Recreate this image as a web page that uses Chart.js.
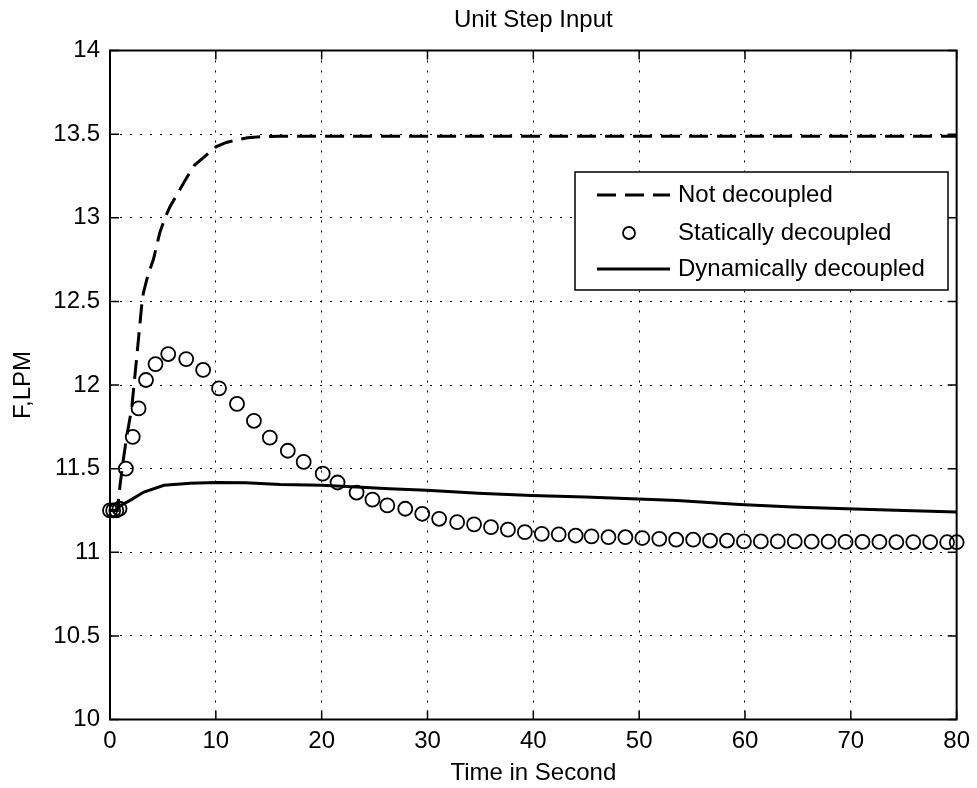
<!DOCTYPE html>
<html>
<head>
<meta charset="utf-8">
<title>Unit Step Input</title>
<script src="https://cdn.jsdelivr.net/npm/chart.js@4.4.1/dist/chart.umd.min.js"></script>
<style>
  html, body { margin: 0; padding: 0; background: #fff; }
  #wrap { width: 977px; height: 788px; }
</style>
</head>
<body>
<div id="wrap"><canvas id="step-chart"></canvas></div>
<script>
// values (time in s, flow in LPM)
const notDecT = [0, 0.7, 0.95, 1.25, 1.6, 2.05, 2.5, 3.0, 3.15, 3.6, 4.1, 4.7, 5.2, 5.7, 6.3, 7.2, 8.0, 9.1, 10.05, 11.0, 11.9, 13.0, 14.4, 16, 20, 30, 40, 50, 60, 70, 80];
const notDecF = [11.25, 11.25, 11.4, 11.55, 11.7, 11.86, 12.15, 12.48, 12.55, 12.66, 12.75, 12.91, 13.0, 13.07, 13.135, 13.235, 13.315, 13.375, 13.425, 13.45, 13.465, 13.478, 13.485, 13.487, 13.488, 13.488, 13.488, 13.488, 13.488, 13.488, 13.488];

const staticT = [0, 0.3, 0.6, 0.9, 1.5, 2.15, 2.7, 3.4, 4.3, 5.5, 7.2, 8.8, 10.3, 12.0, 13.6, 15.1, 16.8, 18.3, 20.1, 21.5, 23.3, 24.8, 26.2, 27.9, 29.5, 31.1, 32.8, 34.4, 36.0, 37.6, 39.2, 40.8, 42.4, 44.0, 45.5, 47.1, 48.7, 50.3, 51.9, 53.5, 55.1, 56.7, 58.3, 59.9, 61.5, 63.1, 64.7, 66.3, 67.9, 69.5, 71.1, 72.7, 74.3, 75.9, 77.5, 79.1, 80];
const staticF = [11.25, 11.25, 11.25, 11.26, 11.5, 11.69, 11.86, 12.03, 12.125, 12.185, 12.155, 12.09, 11.98, 11.887, 11.786, 11.685, 11.607, 11.54, 11.47, 11.417, 11.357, 11.315, 11.28, 11.26, 11.23, 11.20, 11.18, 11.167, 11.15, 11.135, 11.12, 11.11, 11.107, 11.10, 11.095, 11.09, 11.09, 11.085, 11.08, 11.075, 11.075, 11.07, 11.07, 11.065, 11.065, 11.065, 11.065, 11.063, 11.063, 11.062, 11.062, 11.062, 11.061, 11.061, 11.061, 11.06, 11.06];

const dynT = [0, 0.5, 1, 1.9, 3.2, 5.1, 7.6, 10, 12.8, 16.1, 20, 23.3, 26.4, 29.9, 34.8, 39.8, 44.9, 49.9, 53.6, 59.5, 64.5, 69.6, 75, 80];
const dynF = [11.25, 11.25, 11.28, 11.31, 11.36, 11.40, 11.412, 11.417, 11.415, 11.405, 11.40, 11.39, 11.38, 11.37, 11.353, 11.34, 11.33, 11.318, 11.31, 11.285, 11.27, 11.26, 11.25, 11.24];

const seriesNames = ["Not decoupled", "Statically decoupled", "Dynamically decoupled"];
const chartTitle = "Unit Step Input";

const toPoints = (ts, fs) => ts.map((t, i) => ({ x: t, y: fs[i] }));

const FONT = "'Liberation Sans', Arial, sans-serif";
Chart.defaults.font.family = FONT;
Chart.defaults.font.size = 24;
Chart.defaults.color = "#000";

// MATLAB style frame with inward tick marks, title centred over the axes
const frameTicks = {
  id: "frameTicks",
  afterDatasetsDraw(chart) {
    const { ctx, chartArea: a, scales } = chart;
    ctx.save();
    ctx.strokeStyle = "#000";
    ctx.lineWidth = 1.5;
    ctx.beginPath();
    scales.x.ticks.forEach(t => {
      const px = scales.x.getPixelForValue(t.value);
      ctx.moveTo(px, a.bottom); ctx.lineTo(px, a.bottom - 9);
      ctx.moveTo(px, a.top); ctx.lineTo(px, a.top + 9);
    });
    scales.y.ticks.forEach(t => {
      const py = scales.y.getPixelForValue(t.value);
      ctx.moveTo(a.left, py); ctx.lineTo(a.left + 9, py);
      ctx.moveTo(a.right, py); ctx.lineTo(a.right - 9, py);
    });
    ctx.stroke();
    ctx.lineWidth = 2;
    ctx.strokeRect(a.left, a.top, a.right - a.left, a.bottom - a.top);

    ctx.fillStyle = "#000";
    ctx.font = "24px " + FONT;
    ctx.textAlign = "center";
    ctx.textBaseline = "middle";
    ctx.fillText(chartTitle, (a.left + a.right) / 2, 20);
    ctx.restore();
  }
};

// legend box inside the plot, top right
const boxLegend = {
  id: "boxLegend",
  afterDraw(chart) {
    const { ctx } = chart;
    const bx = 575, by = 172, bw = 373, bh = 118;
    const rows = [195, 233, 269];
    ctx.save();
    ctx.fillStyle = "#fff";
    ctx.fillRect(bx, by, bw, bh);
    ctx.strokeStyle = "#000";
    ctx.lineWidth = 1.5;
    ctx.strokeRect(bx, by, bw, bh);
    chart.data.datasets.forEach((ds, i) => {
      const y = rows[i];
      ctx.strokeStyle = "#000";
      if (ds.showLine === false) {
        ctx.lineWidth = 1.8;
        ctx.setLineDash([]);
        ctx.beginPath();
        ctx.arc(629, y, 6, 0, Math.PI * 2);
        ctx.stroke();
      } else {
        ctx.lineWidth = ds.borderWidth;
        ctx.setLineDash(ds.borderDash || []);
        ctx.beginPath();
        ctx.moveTo(597, y); ctx.lineTo(670, y);
        ctx.stroke();
      }
      ctx.setLineDash([]);
      ctx.fillStyle = "#000";
      ctx.font = "24px " + FONT;
      ctx.textBaseline = "middle";
      ctx.textAlign = "left";
      ctx.fillText(ds.label, 678, y);
    });
    ctx.restore();
  }
};

new Chart("step-chart", {
  type: "scatter",
  data: {
    datasets: [
      {
        label: seriesNames[0],
        data: toPoints(notDecT, notDecF),
        showLine: true,
        borderColor: "#000",
        borderWidth: 3,
        borderDash: [19, 9],
        pointRadius: 0,
        fill: false
      },
      {
        label: seriesNames[1],
        data: toPoints(staticT, staticF),
        showLine: false,
        borderColor: "#000",
        backgroundColor: "rgba(0,0,0,0)",
        borderWidth: 1.8,
        pointRadius: 7,
        clip: false
      },
      {
        label: seriesNames[2],
        data: toPoints(dynT, dynF),
        showLine: true,
        borderColor: "#000",
        borderWidth: 3,
        pointRadius: 0,
        fill: false
      }
    ]
  },
  options: {
    responsive: true,
    maintainAspectRatio: false,
    animation: false,
    layout: { padding: { left: 0, right: 18, top: 50.5, bottom: 0 } },
    plugins: {
      legend: { display: false },
      tooltip: { enabled: false },
      title: { display: false }
    },
    scales: {
      x: {
        type: "linear",
        min: 0,
        max: 80,
        ticks: { stepSize: 10, padding: 7 },
        grid: { color: "#000", lineWidth: 1, drawTicks: false },
        border: { display: false, dash: [2, 8] },
        title: { display: true, text: "Time in Second", padding: { top: 0, bottom: 0.6 } },
        afterFit: s => { s.height = 68.5; }
      },
      y: {
        min: 10,
        max: 14,
        ticks: { stepSize: 0.5, padding: 10, callback: v => String(v) },
        grid: { color: "#000", lineWidth: 1, drawTicks: false },
        border: { display: false, dash: [2, 8] },
        title: { display: true, text: "F,LPM", padding: { top: 8.6, bottom: 0 } },
        afterFit: s => { s.width = 110; }
      }
    }
  },
  plugins: [frameTicks, boxLegend]
});
</script>
</body>
</html>
